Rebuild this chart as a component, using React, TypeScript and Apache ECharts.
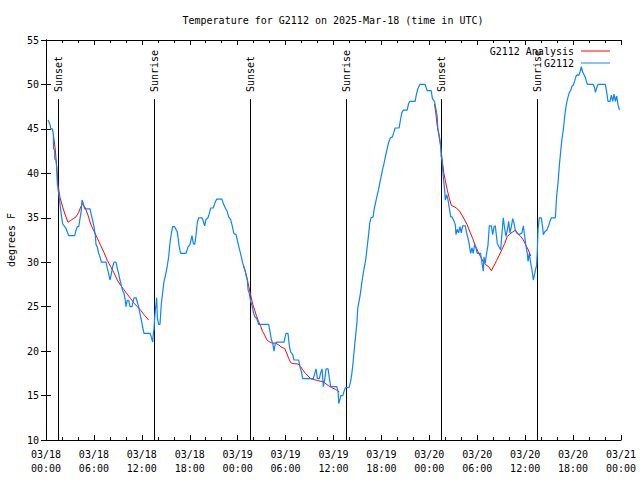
import React, { useEffect, useRef } from "react";
import * as echarts from "echarts";

// Hours since 2025-03-18 00:00 UTC
const xTickLabels = [
  "03/18\n00:00", "03/18\n06:00", "03/18\n12:00", "03/18\n18:00",
  "03/19\n00:00", "03/19\n06:00", "03/19\n12:00", "03/19\n18:00",
  "03/20\n00:00", "03/20\n06:00", "03/20\n12:00", "03/20\n18:00",
  "03/21\n00:00",
];

const sunTimes = [1.54, 13.55, 25.55, 37.6, 49.5, 61.52];
const sunLabels = ["Sunset", "Sunrise", "Sunset", "Sunrise", "Sunset", "Sunrise"];
const sunLineTop = 48.35;

const obsTimes = [
  0.25, 0.5, 0.6, 0.8, 0.92, 0.95, 1.08, 1.1, 1.25, 1.34, 1.42, 1.59, 1.75, 1.92, 2.09, 2.34, 2.5, 2.67, 2.84, 3.59,
  3.76, 3.92, 4.09, 4.26, 4.42, 4.51, 4.67, 4.84, 5.51, 5.68, 5.84, 6.01, 6.18, 6.26, 6.43, 6.59, 6.76, 6.93, 7.51, 7.68,
  7.85, 8.01, 8.18, 8.35, 8.51, 8.76, 8.93, 9.1, 9.26, 9.43, 9.6, 9.77, 9.93, 10.02, 10.18, 10.35, 10.52, 10.77, 10.94, 11.02,
  11.27, 11.44, 11.6, 11.77, 11.94, 12.1, 12.27, 13.02, 13.19, 13.36, 13.44, 13.52, 13.6, 13.69, 13.86, 13.94, 14.1, 14.27, 14.44, 14.6,
  14.77, 15.0, 15.19, 15.36, 15.53, 15.69, 15.86, 16.11, 16.44, 16.69, 16.86, 17.53, 17.78, 18.03, 18.28, 18.45, 18.62, 18.78, 18.95, 19.12,
  19.53, 19.7, 19.87, 20.03, 20.28, 20.45, 20.62, 20.95, 21.12, 21.37, 22.03, 22.2, 22.45, 22.7, 22.87, 23.12, 23.29, 23.54, 23.79, 23.96,
  24.13, 24.3, 24.46, 24.63, 24.8, 24.96, 25.05, 25.21, 25.3, 25.46, 25.63, 25.8, 25.96, 26.13, 26.38, 26.63, 27.88, 28.05, 28.22, 28.38,
  28.55, 28.72, 28.88, 29.8, 30.05, 30.3, 30.47, 30.64, 30.89, 31.06, 31.64, 31.81, 31.98, 32.14, 33.48, 33.65, 33.82, 33.98, 34.23, 34.4,
  34.57, 34.73, 34.9, 35.07, 35.32, 35.49, 35.65, 36.41, 36.57, 36.66, 36.82, 36.91, 37.16, 37.33, 37.5, 37.94, 38.1, 38.27, 38.44, 38.61,
  38.78, 38.94, 39.03, 39.2, 39.37, 39.53, 39.7, 39.87, 40.04, 40.2, 40.37, 40.54, 40.7, 40.95, 41.12, 41.29, 41.46, 41.63, 41.79, 41.96,
  42.13, 42.3, 42.46, 42.63, 42.8, 42.96, 43.13, 43.38, 43.55, 43.71, 44.22, 44.38, 44.55, 44.72, 45.22, 45.39, 45.55, 46.22, 46.39, 46.56,
  46.81, 47.47, 47.73, 48.23, 48.39, 48.64, 48.81, 48.98, 49.06, 49.23, 49.4, 49.48, 49.58, 49.75, 49.92, 50.0, 50.17, 50.34, 50.5, 50.68,
  50.84, 51.1, 51.26, 51.34, 51.5, 51.67, 51.84, 52.0, 52.17, 52.5, 52.67, 52.84, 53.0, 53.17, 53.34, 53.5, 53.67, 53.84, 54.0, 54.42,
  54.59, 54.76, 54.84, 55.0, 55.17, 55.34, 55.51, 55.76, 55.93, 56.1, 56.26, 56.51, 56.68, 56.93, 57.1, 57.26, 57.43, 57.6, 57.77, 57.93,
  58.1, 58.27, 58.43, 58.6, 58.77, 58.94, 59.19, 59.6, 59.77, 59.94, 60.1, 60.27, 60.36, 60.52, 60.69, 60.86, 61.02, 61.19, 61.36, 61.44,
  61.52, 61.61, 61.77, 62.02, 62.19, 62.27, 62.44, 62.69, 62.94, 63.1, 63.27, 63.78, 63.94, 64.11, 64.28, 64.44, 64.61, 64.78, 64.95, 65.11,
  65.28, 65.53, 65.7, 65.86, 66.03, 66.2, 66.36, 66.53, 66.7, 66.87, 67.03, 67.2, 67.37, 67.53, 67.78, 68.53, 68.7, 68.79, 68.95, 69.12,
  70.04, 70.2, 70.37, 70.62, 70.79, 70.96, 71.13, 71.29, 71.46, 71.63, 71.8,
];

const obsTemps = [
  46.0, 45.5, 45, 45, 44.4, 42.8, 42.6, 41.6, 41.5, 40.7, 38.8, 37.7, 36.6, 35.3, 34.3, 34.0, 33.8, 33.4, 33.0, 33.0,
  33.6, 34.0, 34.0, 34.9, 35.8, 37.0, 36.6, 36.0, 36.0, 35.3, 34.7, 34.0, 33.0, 32.0, 31.7, 31.0, 30.6, 30.0, 30.0, 29.3,
  28.7, 28.0, 28.7, 29.5, 30.0, 30.0, 29.3, 28.7, 28.0, 27.4, 26.8, 26.5, 25.7, 25.0, 25.7, 25.7, 25.0, 25.0, 25.7, 26.0,
  26.0, 25.5, 25.0, 24.2, 23.5, 22.7, 22.0, 22.0, 21.6, 21.0, 22.0, 22.4, 23.7, 24.6, 26.0, 23.8, 23.0, 23.0, 25.3, 26.5,
  27.8, 28.7, 29.6, 30.6, 32.2, 33.2, 34.0, 34.0, 33.4, 31.7, 31.0, 31.0, 31.7, 32.0, 33.0, 32.1, 32.0, 33.0, 34.5, 35.0,
  35.0, 34.6, 34.1, 34.8, 35.0, 35.5, 36.1, 36.1, 36.6, 37.1, 37.1, 36.6, 36.1, 35.7, 35.1, 34.8, 34.2, 33.2, 33.1, 32.5,
  31.8, 31.2, 30.6, 29.9, 29.4, 29.0, 28.5, 28.0, 26.9, 26.5, 25.6, 25.1, 24.4, 23.9, 23.7, 23.0, 23.0, 22.2, 21.3, 20.9,
  20.0, 20.9, 21.0, 21.0, 22.0, 22.0, 20.6, 19.9, 19.6, 19.0, 19.0, 18.2, 17.7, 16.9, 16.9, 17.5, 18.0, 16.9, 16.9, 17.6,
  18.0, 16.0, 16.8, 18.0, 18.0, 16.9, 16.0, 16.0, 15.5, 14.1, 14.6, 15.0, 15.0, 15.5, 15.9, 15.9, 16.4, 17.3, 18.6, 20.3,
  21.8, 23.3, 24.8, 25.6, 26.5, 27.6, 28.6, 29.5, 30.3, 31.6, 32.9, 34.4, 35.0, 35.1, 36.1, 36.8, 37.5, 38.1, 38.9, 39.6,
  40.4, 41.0, 41.7, 42.4, 43.1, 43.6, 44.0, 44.1, 44.6, 45.1, 45.1, 46.0, 46.8, 47.1, 47.1, 47.8, 48.1, 48.1, 48.9, 49.5,
  50.0, 50.0, 49.3, 49.3, 48.4, 48.1, 47.3, 46.4, 45.1, 44.3, 43.4, 41.9, 41.5, 39.6, 38.1, 37.0, 37.6, 37.0, 36.1, 35.1,
  35.1, 34.6, 34.2, 33.1, 33.7, 33.3, 34.0, 33.3, 34.1, 34.1, 33.3, 32.7, 32.0, 31.0, 31.6, 31.0, 32.0, 31.6, 31.0, 31.0,
  29.9, 29.0, 30.6, 29.9, 31.0, 31.9, 34.1, 34.1, 33.1, 34.0, 34.1, 32.1, 31.8, 31.4, 33.3, 35.0, 33.8, 32.9, 33.6, 34.6,
  33.3, 34.0, 34.9, 34.4, 33.6, 33.3, 33.1, 33.3, 34.1, 32.9, 31.8, 31.0, 30.1, 31.0, 29.9, 29.1, 28.0, 28.7, 29.4, 29.7,
  31.2, 33.7, 35.0, 35.0, 33.9, 33.1, 33.4, 33.6, 34.1, 34.6, 35.0, 35.0, 37.4, 38.9, 40.9, 42.4, 43.9, 44.9, 46.4, 47.5,
  48.3, 49.1, 49.3, 49.8, 49.9, 50.4, 50.9, 51.1, 51.0, 51.4, 52.0, 51.4, 51.1, 50.8, 50.0, 50.0, 49.6, 49.1, 49.6, 50.0,
  50.0, 49.2, 48.1, 48.1, 48.8, 48.1, 48.9, 48.1, 48.7, 47.7, 47.1,
];

const analysis1Times = [
  0.92, 1.17, 1.34, 1.5, 1.75, 2.09, 2.42, 2.75, 3.09, 3.42, 3.76, 4.09, 4.34, 4.59, 4.92, 5.26, 5.59, 6.01, 6.43, 6.84,
  7.26, 7.68, 8.1, 8.51, 8.93, 9.35, 9.77, 10.18, 10.6, 11.02, 11.44, 11.85, 12.27, 12.85,
];
const analysis1Temps = [
  44.4, 42.6, 40.7, 38.8, 37.3, 36.2, 35.3, 34.5, 34.7, 34.9, 35.1, 35.6, 36.2, 36.6, 36.1, 35.3, 34.3, 33.5, 32.7, 31.9,
  31.1, 30.2, 29.5, 28.8, 28.0, 27.4, 26.9, 26.4, 25.9, 25.4, 25.0, 24.6, 24.1, 23.5,
];

const analysis2Times = [
  24.72, 24.8, 25.13, 25.38, 25.63, 25.88, 26.13, 26.38, 26.63, 26.88, 27.13, 27.38, 27.63, 27.88, 28.3, 28.72, 29.13, 29.55, 29.88, 30.13,
  30.38, 30.64, 30.89, 31.56, 31.9, 32.14, 32.48, 32.81, 33.15, 33.57, 33.98, 34.4, 34.73, 35.07, 35.4, 35.74, 36.24, 36.73,
];
const analysis2Temps = [
  29.7, 29.4, 28.4, 27.3, 26.3, 25.3, 24.6, 23.9, 23.3, 22.8, 22.2, 21.8, 21.3, 21.1, 20.9, 20.9, 20.7, 20.4, 20.3, 19.8,
  19.2, 18.7, 18.6, 18.55, 18.25, 17.9, 17.5, 17.2, 16.9, 16.8, 16.7, 16.6, 16.6, 16.3, 16.1, 15.9, 15.7, 15.4,
];

const analysis3Times = [
  48.64, 48.81, 48.98, 49.23, 49.48, 49.65, 49.82, 50.0, 50.25, 50.5, 50.75, 51.1, 51.42, 51.75, 52.09, 52.42, 52.75, 53.09, 53.42, 53.75,
  54.09, 54.42, 54.76, 55.09, 55.43, 55.76, 56.1, 56.43, 56.76, 57.1, 57.43, 57.77, 58.1, 58.43, 58.77, 59.1, 59.44, 59.77, 60.1, 60.36,
  60.7,
];
const analysis3Temps = [
  47.8, 46.8, 45.4, 44.1, 42.6, 41.2, 40.0, 39.2, 38.1, 37.2, 36.4, 36.25, 36.06, 35.8, 35.3, 34.75, 34.2, 33.4, 32.7, 31.9,
  31.2, 30.6, 30.06, 29.7, 29.5, 29.05, 29.6, 30.2, 30.8, 31.45, 32.1, 32.9, 33.2, 33.4, 33.6, 33.2, 32.9, 32.5, 31.9, 31.45,
  30.7,
];

const FONT = "DejaVu Sans Mono";
const RED = "#ff0000";
const BLUE = "#0a84ff";

const zip = (a: number[], b: number[]) => a.map((v, i) => [v, b[i]]);

export default function App() {
  const ref = useRef<HTMLDivElement>(null);
  useEffect(() => {
    document.body.style.margin = "0";
    if (!ref.current) return;
    const chart = echarts.init(ref.current, null, { renderer: "svg" });
    const textStyle = { fontFamily: FONT, fontSize: 10, color: "#000" };
    const analysisSeries = [
      zip(analysis1Times, analysis1Temps),
      zip(analysis2Times, analysis2Temps),
      zip(analysis3Times, analysis3Temps),
    ].map((d) => ({
      type: "line",
      name: "G2112 Analysis",
      data: d,
      symbol: "none",
      z: 3,
      lineStyle: { color: RED, width: 1 },
      itemStyle: { color: RED },
    }));
    chart.setOption({
      animation: false,
      backgroundColor: "#fff",
      title: {
        text: "Temperature for G2112 on 2025-Mar-18 (time in UTC)",
        left: 328,
        textAlign: "center",
        top: 10,
        textStyle: { ...textStyle, fontWeight: "normal" },
      },
      legend: {
        data: [
          { name: "G2112 Analysis", icon: "rect" },
          { name: "G2112", icon: "rect" },
        ],
        orient: "vertical",
        right: 30,
        top: 46,
        align: "right",
        itemWidth: 29,
        itemHeight: 1,
        itemGap: 2,
        padding: 0,
        textStyle: { ...textStyle, padding: [0, 2, 0, 0] },
      },
      grid: { left: 46, right: 19, top: 40, bottom: 40, outerBoundsMode: "none", containLabel: false },
      xAxis: [
        {
          type: "value",
          min: 0,
          max: 72,
          interval: 6,
          position: "bottom",
          axisLine: { lineStyle: { color: "#000", width: 1 } },
          axisTick: { inside: true, length: 5, lineStyle: { color: "#000" } },
          minorTick: { show: true, splitNumber: 3, length: 3, lineStyle: { color: "#000" } },
          splitLine: { show: false },
          axisLabel: {
            ...textStyle,
            margin: 7,
            lineHeight: 14,
            formatter: (v: number) => xTickLabels[Math.round(v / 6)] ?? "",
          },
        },
        {
          type: "value",
          min: 0,
          max: 72,
          interval: 6,
          position: "top",
          axisLine: { lineStyle: { color: "#000", width: 1 } },
          axisTick: { inside: true, length: 5, lineStyle: { color: "#000" } },
          minorTick: { show: true, splitNumber: 3, length: 3, lineStyle: { color: "#000" } },
          splitLine: { show: false },
          axisLabel: { show: false },
        },
      ],
      yAxis: [
        {
          type: "value",
          min: 10,
          max: 55,
          interval: 5,
          position: "left",
          name: "degrees F",
          nameLocation: "middle",
          nameRotate: 90,
          nameGap: 30,
          nameTextStyle: { ...textStyle },
          axisLine: { show: true, lineStyle: { color: "#000", width: 1 } },
          axisTick: { show: true, inside: true, length: 5, lineStyle: { color: "#000" } },
          splitLine: { show: false },
          axisLabel: { ...textStyle, margin: 7 },
        },
        {
          type: "value",
          min: 10,
          max: 55,
          interval: 5,
          position: "right",
          axisLine: { show: true, lineStyle: { color: "#000", width: 1 } },
          axisTick: { show: true, inside: true, length: 5, lineStyle: { color: "#000" } },
          splitLine: { show: false },
          axisLabel: { show: false },
        },
      ],
      series: [
        {
          type: "custom",
          name: "sun",
          silent: true,
          z: 1,
          data: sunTimes.map((t) => [t]),
          renderItem: (params: any, api: any) => {
            const t = api.value(0);
            const bottom = api.coord([t, 10]);
            const top = api.coord([t, sunLineTop]);
            const x = Math.round(top[0]) + 0.5;
            return {
              type: "group",
              children: [
                {
                  type: "line",
                  shape: { x1: x, y1: bottom[1], x2: x, y2: top[1] },
                  style: { stroke: "#000", lineWidth: 1 },
                },
                {
                  type: "text",
                  x: x,
                  y: top[1] - 7,
                  rotation: Math.PI / 2,
                  style: {
                    text: sunLabels[params.dataIndex],
                    font: `10px "${FONT}"`,
                    fill: "#000",
                    align: "left",
                    verticalAlign: "middle",
                  },
                },
              ],
            };
          },
        },
        ...analysisSeries,
        {
          type: "line",
          name: "G2112",
          data: zip(obsTimes, obsTemps),
          symbol: "none",
          z: 4,
          lineStyle: { color: BLUE, width: 1.2 },
          itemStyle: { color: BLUE },
        },
      ],
    });
    return () => chart.dispose();
  }, []);
  return <div ref={ref} style={{ width: 640, height: 480 }} />;
}
